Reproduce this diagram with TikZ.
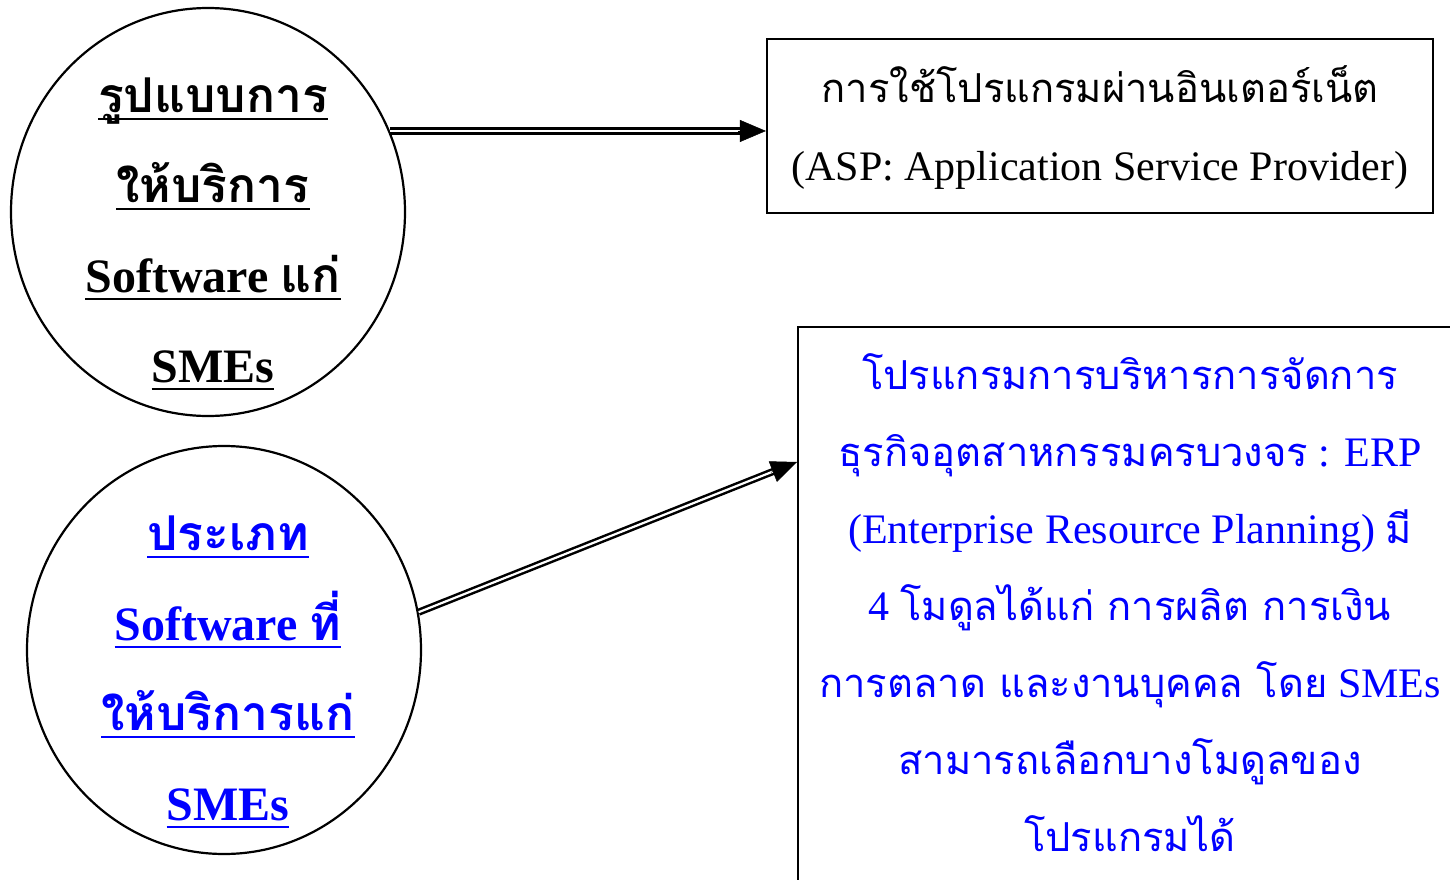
\documentclass[tikz,border=0pt]{standalone}
\usepackage{fontspec}
\setmainfont{Liberation Serif}
\newfontfamily\thaifont[Script=Thai,Scale=0.95]{Loma}
\newfontfamily\thaibig[Script=Thai,Scale=1.0]{Loma}
\usetikzlibrary{shapes.geometric,arrows.meta,calc}
\newcommand\thx[1]{{\thaifont #1}}
\newcommand\thb[1]{{\thaibig #1}}
\newcommand\ulx[1]{\setbox0\hbox{#1}\rlap{\rule[-7pt]{\wd0}{2.2pt}}\box0}
\tikzset{
  circ/.style={ellipse,draw,line width=2.2pt,minimum width=394pt,minimum height=408pt,inner sep=0pt},
  boxa/.style={rectangle,draw,line width=2.2pt,inner sep=0pt},
  ctext/.style={align=center,font={\fontsize{48}{90}\selectfont\bfseries}},
  btext/.style={align=center,font={\fontsize{42}{78}\selectfont}},
  dbl/.style={draw,double=white,double distance=2.2pt,line width=2.5pt},
  tip/.style={draw,line width=0.5pt,-{Triangle[length=26pt,width=22pt]}}
}
\begin{document}
\begin{tikzpicture}[x=1pt,y=-1pt]
\useasboundingbox (0,0) rectangle (1450,880);
\clip (0,0) rectangle (1450,880);
\node[circ] (c1) at (208,212) {};
\node[circ] (c2) at (224,650) {};
\node[boxa,minimum width=666pt,minimum height=174pt] (b1) at (1100,126) {};
\node[boxa,minimum width=700pt,minimum height=600pt,anchor=north west] (b2) at (797,326) {};
\node[ctext] (t1) at (213,234) {\ulx{\thb{รูปแบบการ}}\\ \ulx{\thb{ให้บริการ}}\\ \ulx{Software \thb{แก่}}\\ \ulx{SMEs}};
\node[ctext,text=blue] (t2) at (228,672) {\ulx{\thb{ประเภท}}\\ \ulx{Software \thb{ที่}}\\ \ulx{\thb{ให้บริการแก่}}\\ \ulx{SMEs}};
\node[btext] (t3) at (1100,128) {\thx{การใช้โปรแกรมผ่านอินเตอร์เน็ต}\\ (ASP: Application Service Provider)};
\node[btext,text=blue,font={\fontsize{42}{77}\selectfont}] (t4) at (1130,603) {\thx{โปรแกรมการบริหารการจัดการ}\\
\thx{ธุรกิจอุตสาหกรรมครบวงจร} : ERP\\
(Enterprise Resource Planning) \thx{มี}\\
4 \thx{โมดูลได้แก่ การผลิต การเงิน}\\
\thx{การตลาด และงานบุคคล โดย} SMEs\\
\thx{สามารถเลือกบางโมดูลของ}\\
\thx{โปรแกรมได้}};
\coordinate (a1s) at (c1.24.5);
\coordinate (a1e) at (a1s -| b1.west);
\draw[dbl,shorten >=22pt] (a1s) -- (a1e);
\draw[tip] ($(a1e)!28pt!(a1s)$) -- (a1e);
\coordinate (a2s) at (c2.11);
\coordinate (a2e) at ($(b2.north west)+(0,136)$);
\draw[dbl,shorten >=22pt] (a2s) -- (a2e);
\draw[tip] ($(a2e)!28pt!(a2s)$) -- (a2e);
\end{tikzpicture}
\end{document}
